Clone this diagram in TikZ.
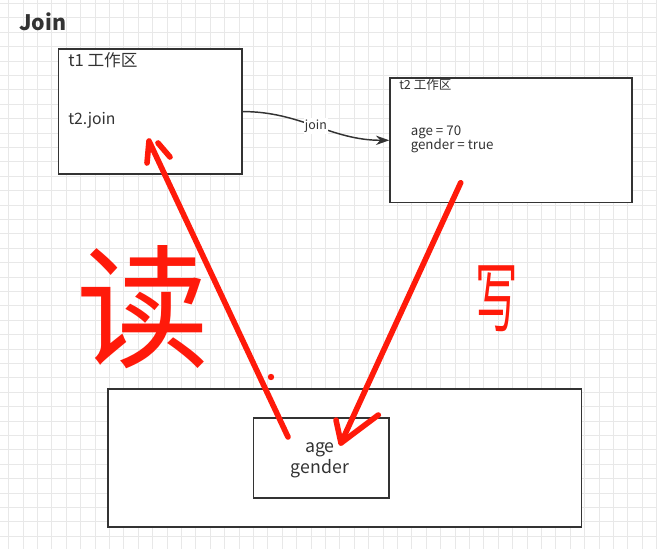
\documentclass[tikz,border=0pt]{standalone}
\usepackage{fontspec}
\setmainfont{Noto Sans CJK SC}
\usepackage{xcolor}
\usepackage{tikz}
\usetikzlibrary{arrows.meta}
\definecolor{ink}{HTML}{333333}
\definecolor{pen}{HTML}{FF1A0A}
\tikzstyle{box}=[draw=ink, line width=1.2pt, fill=white, anchor=north west, inner sep=0pt]
\tikzstyle{txt}=[text=ink, anchor=west, inner sep=0pt]
\tikzstyle{flow}=[draw=ink, line width=1.1pt, -{Stealth[length=10pt, width=7pt]}]
\tikzstyle{scrawl}=[draw=pen, line width=4.2pt, line cap=round, line join=round]

\begin{document}
\begin{tikzpicture}[x=0.75pt, y=-0.75pt]
        \useasboundingbox (0,0) rectangle (657,549);
        \fill[white] (0,0) rectangle (657,549);
        \foreach \x in {0,...,45} {
            \draw[black!9, line width=0.5pt] (8.5+14.4*\x,0) -- (8.5+14.4*\x,549);
        }
        \foreach \y in {0,...,38} {
            \draw[black!9, line width=0.5pt] (0,3.3+14.4*\y) -- (657,3.3+14.4*\y);
        }
        \node[txt, font=\bfseries\fontsize{16}{18}\selectfont] (title) at (19,22) {Join};
        \node[box, minimum width=137.6pt, minimum height=93.4pt] (t1) at (57.5,48.5) {};
        \node[txt, font=\fontsize{12.5}{14}\selectfont] (t1name) at (68,60) {t1 工作区};
        \node[txt, font=\fontsize{11.8}{14}\selectfont] (t1code) at (68,120) {t2.join};
        \node[box, minimum width=181.3pt, minimum height=93.3pt] (t2) at (389.3,77.3) {};
        \node[txt, font=\fontsize{9.4}{11}\selectfont] (t2name) at (399,85) {t2 工作区};
        \node[txt, align=left, font=\fontsize{10}{10.5}\selectfont] (t2vars) at (410.5,139) {age = 70\\gender = true};
        \draw[flow] (t1.east) to[out=0, in=180] node[fill=white, text=ink, inner sep=1pt, font=\fontsize{9.3}{10}\selectfont] (joinlbl) {join} (t2.west);
        \node[box, minimum width=355pt, minimum height=103.5pt] (heap) at (107.3,388) {};
        \node[box, minimum width=101.7pt, minimum height=60pt] (fields) at (252.7,417.3) {};
        \node[text=ink, align=center, font=\fontsize{13.3}{15.75}\selectfont] (fieldnames) at (320,460.5) {age\\gender};
        \node[text=pen, inner sep=0pt, font=\fontsize{100}{100}\selectfont] (readmark) at (143,307) {读};
        \node[text=pen, inner sep=0pt, xscale=0.55, font=\fontsize{58}{58}\selectfont] (writemark) at (497,299) {写};
        \coordinate (readtail) at (288,437);
        \coordinate (readtip) at (149,141);
        \coordinate (writetail) at (460.7,182.7);
        \coordinate (writetip) at (341,443);
        \draw[scrawl] (readtail) -- (readtip) -- (147,163);
        \draw[scrawl] (158,143) -- (170,157);
        \fill[pen] (271,377) circle[radius=2.4pt];
        \draw[scrawl] (writetail) -- (writetip);
        \draw[scrawl] (336,420) -- (writetip) -- (378.3,415);
    \end{tikzpicture}
\end{document}
